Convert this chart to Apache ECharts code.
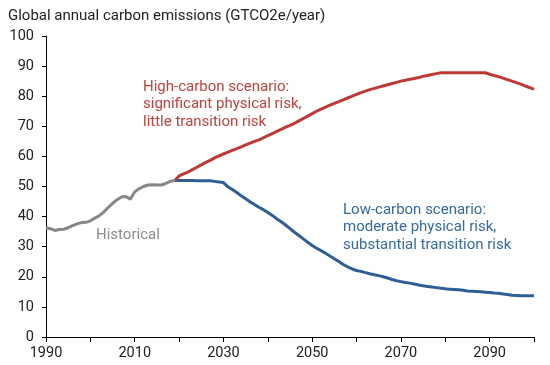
<!DOCTYPE html>
<html>
<head>
<meta charset="utf-8">
<script src="https://cdn.jsdelivr.net/npm/echarts@6/dist/echarts.min.js"></script>
<style>html,body{margin:0;padding:0;background:#fff}#c{width:550px;height:365px}</style>
</head>
<body>
<div id="c"></div>
<script>
// Historical emissions, 1990-2019
const histStart = 1990;
const historical = [36.2, 36.0, 35.4, 35.7, 35.8, 36.3, 37.0, 37.6, 38.0, 38.1,
  38.6, 39.5, 40.3, 41.5, 43.0, 44.4, 45.6, 46.5, 46.7, 45.8,
  48.2, 49.3, 50.0, 50.5, 50.6, 50.5, 50.5, 51.0, 51.7, 52.0];
// Scenarios, 2019-2100
const scenStart = 2019;
const highCarbon = [52.0, 53.5, 54.2, 54.8, 55.6, 56.4, 57.2, 58.0, 58.7, 59.5, 60.2,
  60.8, 61.4, 62.0, 62.6, 63.2, 63.8, 64.4, 65.0, 65.5, 66.2,
  66.9, 67.6, 68.3, 69.0, 69.7, 70.3, 71.0, 71.8, 72.6, 73.4,
  74.2, 75.0, 75.7, 76.4, 77.0, 77.6, 78.2, 78.8, 79.4, 80.0,
  80.6, 81.2, 81.7, 82.2, 82.6, 83.0, 83.4, 83.8, 84.2, 84.6,
  85.0, 85.3, 85.6, 85.9, 86.2, 86.6, 86.9, 87.2, 87.5, 87.8,
  87.8, 87.8, 87.8, 87.8, 87.8, 87.8, 87.8, 87.8, 87.8, 87.8,
  87.3, 86.9, 86.5, 86.0, 85.5, 85.0, 84.5, 84.0, 83.4, 82.9, 82.3];
const lowCarbon = [52.0, 52.0, 52.0, 52.0, 52.0, 51.9, 51.9, 51.9, 51.9, 51.7, 51.5,
  51.3, 49.9, 49.0, 48.0, 46.9, 45.9, 44.9, 44.0, 43.1, 42.3,
  41.4, 40.4, 39.3, 38.3, 37.2, 36.0, 34.8, 33.7, 32.6, 31.5,
  30.4, 29.5, 28.7, 27.8, 26.9, 26.0, 25.1, 24.1, 23.3, 22.6,
  22.1, 21.8, 21.4, 21.0, 20.7, 20.4, 20.0, 19.6, 19.1, 18.7,
  18.4, 18.1, 17.9, 17.6, 17.3, 17.0, 16.8, 16.6, 16.4, 16.2,
  16.0, 15.9, 15.8, 15.7, 15.5, 15.3, 15.2, 15.1, 15.0, 14.9,
  14.8, 14.6, 14.5, 14.3, 14.1, 13.9, 13.8, 13.7, 13.7, 13.7, 13.7];
const titleText = 'Global annual carbon emissions (GTCO2e/year)';
const highLabel = ['High-carbon scenario:', 'significant physical risk,', 'little transition risk'];
const lowLabel = ['Low-carbon scenario:', 'moderate physical risk,', 'substantial transition risk'];
const histLabel = 'Historical';

const toPairs = (start, arr) => arr.map((v, i) => [start + i, v]);

const chart = echarts.init(document.getElementById('c'));
const font = 'Roboto, "Noto Sans", sans-serif';
const txt = (x, y, lines, color) => ({
  type: 'text', left: x, top: y,
  style: { text: lines.join('\n'), fill: color, font: '15px ' + font, lineHeight: 17.5 }
});
chart.setOption({
  animation: false,
  textStyle: { fontFamily: font },
  title: { text: titleText, left: 3, top: 4,
    textStyle: { fontSize: 15, fontWeight: 'normal', color: '#222', fontFamily: font } },
  grid: { left: 46, right: 16, top: 36, bottom: 28, containLabel: false },
  xAxis: {
    type: 'value', min: 1990, max: 2100, interval: 10,
    axisLine: { lineStyle: { color: '#000', width: 1 } },
    axisTick: { show: true, length: 5, lineStyle: { color: '#000' } },
    axisLabel: { color: '#222', fontSize: 14.5, margin: 9,
      formatter: v => ((v - 1990) % 20 === 0 ? String(v) : '') },
    splitLine: { show: false }
  },
  yAxis: {
    type: 'value', min: 0, max: 100, interval: 10,
    axisLine: { show: true, lineStyle: { color: '#000', width: 1 } },
    axisTick: { show: true, length: 4, lineStyle: { color: '#000' } },
    axisLabel: { color: '#222', fontSize: 14.5, margin: 12 },
    splitLine: { show: false }
  },
  series: [
    { type: 'line', data: toPairs(scenStart, lowCarbon), showSymbol: false,
      lineStyle: { color: '#2f5f92', width: 3 }, z: 2 },
    { type: 'line', data: toPairs(scenStart, highCarbon), showSymbol: false,
      lineStyle: { color: '#bf3934', width: 3 }, z: 3 },
    { type: 'line', data: toPairs(histStart, historical), showSymbol: false,
      lineStyle: { color: '#878787', width: 3 }, z: 4 }
  ],
  graphic: [
    txt(143, 78, highLabel, '#c4423b'),
    txt(343, 201, lowLabel, '#356aa3'),
    txt(96, 226.5, [histLabel], '#8d8d8d')
  ]
});
</script>
</body>
</html>
